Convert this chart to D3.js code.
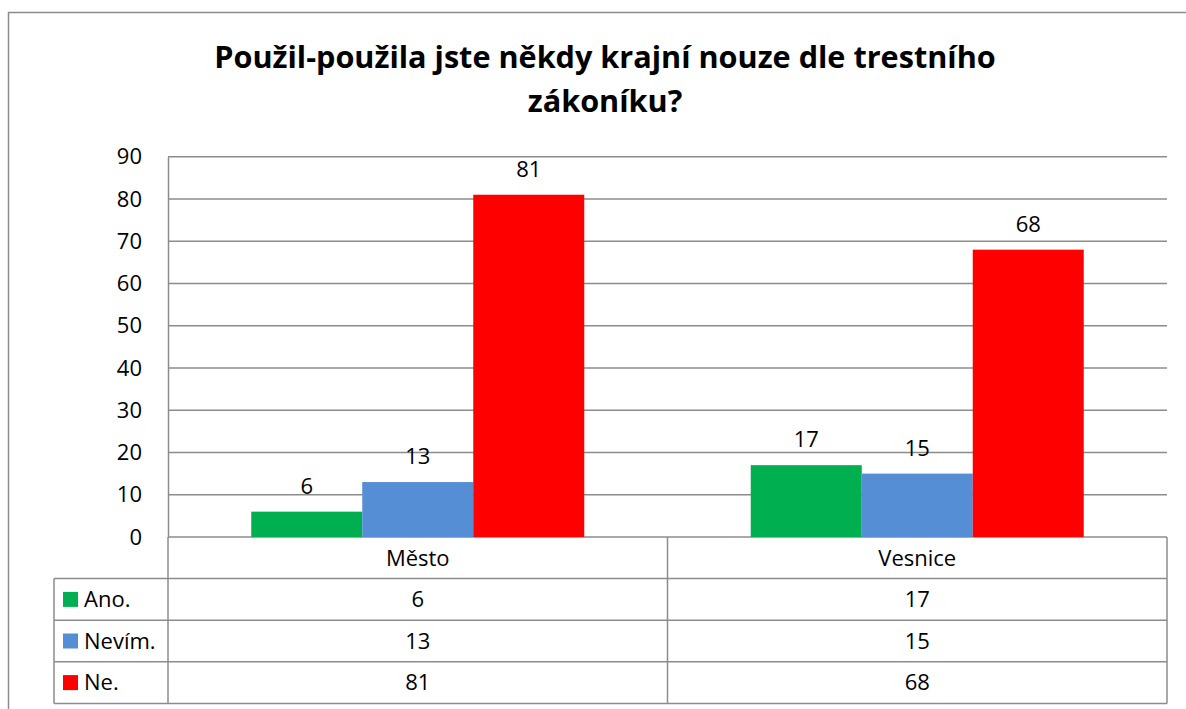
<!DOCTYPE html>
<html>
<head>
<meta charset="utf-8">
<script src="https://cdn.jsdelivr.net/npm/d3@7"></script>
<style>
  html, body { margin: 0; padding: 0; background: #fff; }
  svg { display: block; font-family: "Open Sans", "Noto Sans", sans-serif; }
</style>
</head>
<body>
<div id="chart"></div>
<script>
// data
let titleLines = ['Použil-použila jste někdy krajní nouze dle trestního', 'zákoníku?'];
let categories = ['Město', 'Vesnice'];
let seriesNames = ['Ano.', 'Nevím.', 'Ne.'];
let seriesColors = ['#00B050', '#558ED5', '#FF0000'];
let anoValues = [6, 17];
let nevimValues = [13, 15];
let neValues = [81, 68];
let yTicks = [0, 10, 20, 30, 40, 50, 60, 70, 80, 90];

let seriesValues = [anoValues, nevimValues, neValues];

let sizes = { width: 1186, height: 709 };
let plot = { left: 168, right: 1167, top: 156.7, bottom: 537 };
let tbl = { left: 54, rowH: 41.6 };
let gridColor = '#8c8c8c';
let fontSize = 22;
let fontFamily = '"Open Sans", "Noto Sans", sans-serif';

let svg = d3.select('#chart').append('svg')
    .attr('width', sizes.width)
    .attr('height', sizes.height);

// outer frame
svg.append('rect')
    .attr('x', 8.5).attr('y', 12.5)
    .attr('width', sizes.width + 20).attr('height', sizes.height + 20)
    .attr('fill', 'none').attr('stroke', gridColor).attr('stroke-width', 1.5);

// title - Calibri-like narrow bold: squeeze Open Sans horizontally to the width in the picture
let title = svg.append('g').attr('id', 'title');
title.selectAll('text')
    .data(titleLines)
    .enter().append('text')
    .attr('x', 0)
    .attr('y', (d, i) => 68 + i * 44)
    .attr('text-anchor', 'middle')
    .attr('font-weight', 'bold')
    .attr('font-size', 31)
    .attr('fill', '#000')
    .text(d => d);
let w0 = title.select('text').node().getComputedTextLength();
title.attr('transform', `translate(605,0) scale(${782 / w0},1)`);

let y = d3.scaleLinear().domain([0, 90]).range([plot.bottom, plot.top]);
let x0 = d3.scaleBand().domain(categories).range([plot.left, plot.right]);
let x1 = d3.scaleBand().domain(seriesNames).range([0, x0.bandwidth()]).paddingOuter(0.75);

// gridlines
svg.append('g').selectAll('line')
    .data(yTicks)
    .enter().append('line')
    .attr('x1', plot.left).attr('x2', plot.right)
    .attr('y1', d => y(d)).attr('y2', d => y(d))
    .attr('stroke', gridColor).attr('stroke-width', 1.5);

// y axis
let yAxis = svg.append('g')
    .attr('transform', `translate(${plot.left},0)`)
    .call(d3.axisLeft(y).tickValues(yTicks).tickSize(0).tickPadding(26));
yAxis.select('.domain').attr('stroke', gridColor).attr('stroke-width', 1.5);
yAxis.selectAll('text').attr('font-size', fontSize).attr('fill', '#000').attr('font-family', fontFamily);

// bars
let groups = svg.append('g').selectAll('g')
    .data(categories)
    .enter().append('g')
    .attr('transform', d => `translate(${x0(d)},0)`);

groups.selectAll('rect')
    .data((c, ci) => seriesNames.map((s, si) => ({ s: s, v: seriesValues[si][ci], color: seriesColors[si] })))
    .enter().append('rect')
    .attr('x', d => x1(d.s))
    .attr('width', x1.bandwidth())
    .attr('y', d => y(d.v))
    .attr('height', d => y(0) - y(d.v))
    .attr('fill', d => d.color);

groups.selectAll('text')
    .data((c, ci) => seriesNames.map((s, si) => ({ s: s, v: seriesValues[si][ci] })))
    .enter().append('text')
    .attr('x', d => x1(d.s) + x1.bandwidth() / 2)
    .attr('y', d => y(d.v) - 18)
    .attr('text-anchor', 'middle')
    .attr('font-size', fontSize)
    .text(d => d.v);

// data table
let table = svg.append('g').attr('id', 'dataTable');
let rowTop = i => plot.bottom + tbl.rowH * i;
let tableBottom = rowTop(4);

// category row
table.selectAll('.cat')
    .data(categories)
    .enter().append('text')
    .attr('class', 'cat')
    .attr('x', d => x0(d) + x0.bandwidth() / 2)
    .attr('y', rowTop(0) + tbl.rowH / 2)
    .attr('dy', '0.35em')
    .attr('text-anchor', 'middle')
    .attr('font-size', fontSize)
    .text(d => d);

// horizontal lines of table
table.selectAll('.hl')
    .data([1, 2, 3, 4])
    .enter().append('line')
    .attr('x1', tbl.left).attr('x2', plot.right)
    .attr('y1', d => rowTop(d)).attr('y2', d => rowTop(d))
    .attr('stroke', gridColor).attr('stroke-width', 1.5);

// vertical lines
table.append('line')
    .attr('x1', tbl.left).attr('x2', tbl.left)
    .attr('y1', rowTop(1)).attr('y2', tableBottom)
    .attr('stroke', gridColor).attr('stroke-width', 1.5);
table.selectAll('.vl')
    .data(categories.map(c => x0(c)).concat([plot.right]))
    .enter().append('line')
    .attr('x1', d => d).attr('x2', d => d)
    .attr('y1', plot.bottom).attr('y2', tableBottom)
    .attr('stroke', gridColor).attr('stroke-width', 1.5);

// series rows
let rows = table.selectAll('.row')
    .data(seriesNames)
    .enter().append('g')
    .attr('class', 'row')
    .attr('transform', (d, i) => `translate(0,${rowTop(i + 1)})`);

rows.append('rect')
    .attr('x', 63)
    .attr('y', tbl.rowH / 2 - 7.5)
    .attr('width', 15).attr('height', 15)
    .attr('fill', (d, i) => seriesColors[i]);

rows.append('text')
    .attr('x', 84)
    .attr('y', tbl.rowH / 2)
    .attr('dy', '0.35em')
    .attr('font-size', fontSize)
    .text(d => d);

rows.selectAll('.val')
    .data((s, si) => categories.map((c, ci) => ({ c: c, v: seriesValues[si][ci] })))
    .enter().append('text')
    .attr('class', 'val')
    .attr('x', d => x0(d.c) + x0.bandwidth() / 2)
    .attr('y', tbl.rowH / 2)
    .attr('dy', '0.35em')
    .attr('text-anchor', 'middle')
    .attr('font-size', fontSize)
    .text(d => d.v);
</script>
</body>
</html>
